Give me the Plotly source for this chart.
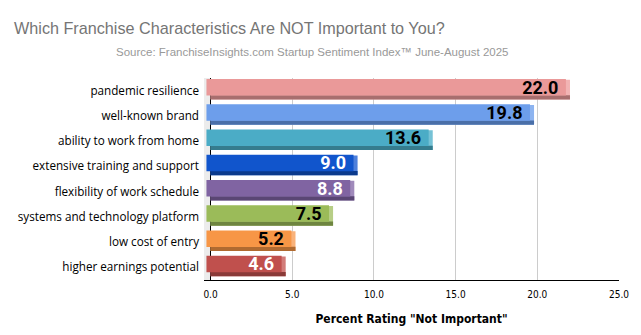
import plotly.graph_objects as go

categories = ["pandemic resilience", "well-known brand", "ability to work from home",
              "extensive training and support", "flexibility of work schedule",
              "systems and technology platform", "low cost of entry", "higher earnings potential"]
values = [22.0, 19.8, 13.6, 9.0, 8.8, 7.5, 5.2, 4.6]
front_colors = ["#EA9999", "#6D9EEB", "#4BACC6", "#1155CC", "#8064A2", "#9BBB59", "#F79646", "#C0504D"]
bottom_colors = ["#A86E6E", "#4A6FA8", "#357C8E", "#0B3A8C", "#5A4674", "#6E8540", "#B06A30", "#8A3A38"]
side_colors = ["#F2B3B3", "#8DB4F0", "#76C2D6", "#4D7FDB", "#A08ABB", "#B7CE86", "#F9B27A", "#D27C79"]
label_colors = ["black", "black", "black", "white", "white", "black", "black", "white"]
tick_vals = [0, 5, 10, 15, 20, 25]
tick_text = ["0.0", "5.0", "10.0", "15.0", "20.0", "25.0"]

# bottom-to-top order for the category axis
cats = categories[::-1]
vals = values[::-1]
fc = front_colors[::-1]
bc = bottom_colors[::-1]
sc = side_colors[::-1]
lc = label_colors[::-1]

fig = go.Figure()
# depth (side face)
fig.add_trace(go.Bar(y=cats, x=vals, base=0, orientation="h", offset=-0.35, width=0.78,
                     marker=dict(color=sc, line=dict(width=0)), hoverinfo="skip", showlegend=False))
# bottom face
fig.add_trace(go.Bar(y=cats, x=vals, base=0, orientation="h", offset=-0.35, width=0.17,
                     marker=dict(color=bc, line=dict(width=0)), hoverinfo="skip", showlegend=False))
# front face with labels
fig.add_trace(go.Bar(y=cats, x=vals, base=-0.25, orientation="h", offset=-0.19, width=0.65,
                     marker=dict(color=fc, line=dict(width=0)),
                     text=[f"{v:.1f}\u00a0" for v in vals], textposition="inside",
                     insidetextanchor="end", constraintext="none",
                     textfont=dict(family="Roboto", size=18, color=lc, weight="bold"),
                     showlegend=False))

fig.add_shape(type="rect", xref="x", yref="paper", x0=-0.4, x1=0, y0=0, y1=1,
              fillcolor="#ECECEC", line=dict(width=0), layer="below")

fig.update_layout(
    width=641, height=335, barmode="overlay",
    margin=dict(l=204, r=17, t=78, b=50),
    paper_bgcolor="white", plot_bgcolor="white",
    xaxis=dict(range=[-0.4, 25], tickvals=tick_vals, ticktext=tick_text,
               showgrid=True, gridcolor="#CCCCCC", gridwidth=1,
               zeroline=True, zerolinecolor="black", zerolinewidth=1,
               showline=True, linecolor="black", linewidth=1,
               ticklabelstandoff=5,
               tickfont=dict(family="DejaVu Sans Condensed", size=10, color="black"),
               title=dict(text='Percent Rating "Not Important"', standoff=15,
                          font=dict(family="DejaVu Sans Condensed", size=12, color="black", weight="bold"))),
    yaxis=dict(categoryorder="array", categoryarray=cats, showgrid=False,
               tickfont=dict(family="Open Sans", size=11.7, color="black"),
               ticklabelstandoff=4, range=[-0.5, 7.5]),
    annotations=[
        dict(text="Which Franchise Characteristics Are NOT Important to You?", xref="paper", yref="paper",
             x=-0.462, y=1.2464, xanchor="left", yanchor="middle", showarrow=False,
             font=dict(family="Liberation Sans", size=16.2, color="#757575")),
        dict(text="Source: FranchiseInsights.com Startup Sentiment Index\u2122 June-August 2025",
             xref="paper", yref="paper", x=0.74, y=1.1304,
             xanchor="right", yanchor="middle", showarrow=False,
             font=dict(family="Liberation Sans", size=11.5, color="#999999")),
    ],
)

fig.write_html("out.html")
